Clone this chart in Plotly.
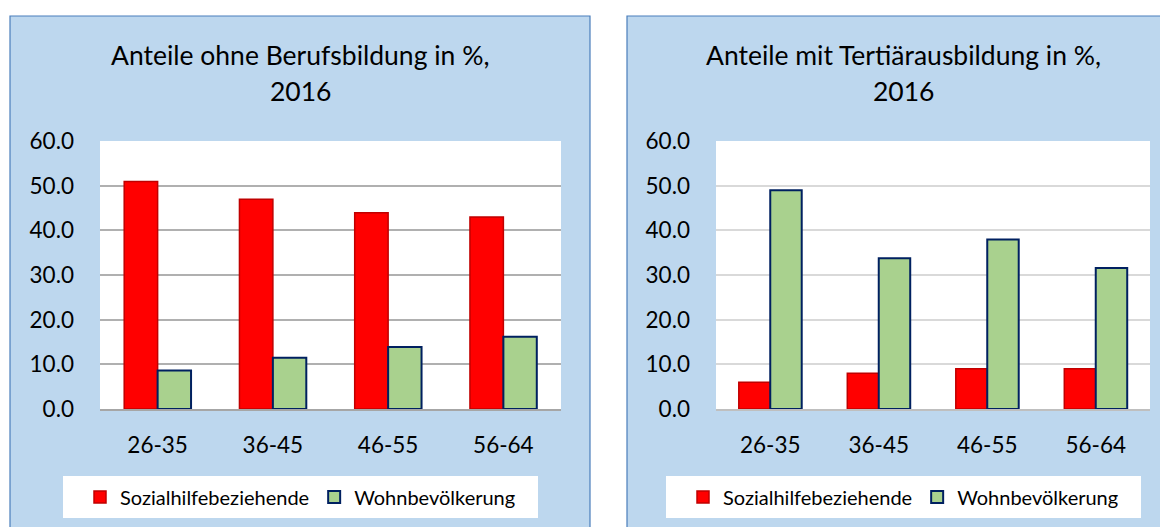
import plotly.graph_objects as go

# données
age_groups = ["26-35", "36-45", "46-55", "56-64"]

sans_formation_sozialhilfe = [51.0, 47.0, 44.0, 43.0]
sans_formation_wohnbev = [8.6, 11.5, 13.9, 16.2]

tertiaire_sozialhilfe = [6.0, 8.0, 9.0, 9.0]
tertiaire_wohnbev = [49.0, 33.8, 38.0, 31.6]

series_names = ["Sozialhilfebeziehende", "Wohnbevölkerung"]
titles = ["Anteile ohne Berufsbildung in %,", "Anteile mit Tertiärausbildung in %,"]
title_year = "2016"

# la page html ajoute une marge de 8px : on travaille en coordonnées écran
OFF = 8
W, H = 1168 - OFF, 527 - OFF
FONT = "Lato"
PANEL_BG = "#BDD7EE"
PANEL_LINE = "#4A7EBB"
RED, RED_LINE = "#FF0000", "#C00000"
GREEN, GREEN_LINE = "#A9D18E", "#002060"


def px_x(x):
    return (x - OFF) / W


def px_y(y):
    return 1 - (y - OFF) / H


fig = go.Figure()

# barres, panneau gauche puis droit
panels = [
    ("x", "y", "legend", sans_formation_sozialhilfe, sans_formation_wohnbev),
    ("x2", "y2", "legend2", tertiaire_sozialhilfe, tertiaire_wohnbev),
]
for xa, ya, leg, red_vals, green_vals in panels:
    fig.add_trace(go.Bar(
        x=age_groups, y=red_vals, name=series_names[0],
        marker=dict(color=RED, line=dict(color=RED_LINE, width=1.5)),
        xaxis=xa, yaxis=ya, legend=leg,
    ))
    fig.add_trace(go.Bar(
        x=age_groups, y=green_vals, name=series_names[1],
        marker=dict(color=GREEN, line=dict(color=GREEN_LINE, width=2)),
        xaxis=xa, yaxis=ya, legend=leg,
    ))

# fonds des panneaux, zones de tracé blanches, boites de légende
shapes = []
for x0, x1 in [(10, 590), (627, 1190)]:
    shapes.append(dict(type="rect", xref="paper", yref="paper",
                       x0=px_x(x0), x1=px_x(x1), y0=px_y(545), y1=px_y(16),
                       fillcolor=PANEL_BG, line=dict(color=PANEL_LINE, width=1.2),
                       layer="below"))
for x0, x1 in [(100, 561), (716, 1150)]:
    shapes.append(dict(type="rect", xref="paper", yref="paper",
                       x0=px_x(x0), x1=px_x(x1), y0=px_y(409), y1=px_y(141),
                       fillcolor="white", line=dict(width=0), layer="below"))
for x0, x1 in [(63, 538), (666, 1141)]:
    shapes.append(dict(type="rect", xref="paper", yref="paper",
                       x0=px_x(x0), x1=px_x(x1), y0=px_y(518), y1=px_y(476),
                       fillcolor="white", line=dict(width=0), layer="below"))

# titres
annotations = []
for cx, title in [(300, titles[0]), (903, titles[1])]:
    for cy, txt in [(55, title), (91, title_year)]:
        annotations.append(dict(x=px_x(cx), y=px_y(cy), xref="paper", yref="paper",
                                text=txt, showarrow=False, xanchor="center",
                                yanchor="middle", font=dict(size=26.5, color="black")))

y_domain = [px_y(409), px_y(141)]


def yaxis(grid, anchor):
    return dict(domain=y_domain, anchor=anchor, range=[0, 60.05], dtick=10,
                tickformat=".1f", showgrid=True, gridcolor=grid, gridwidth=1.5,
                zeroline=False, automargin=False, ticklabelstandoff=25,
                tickfont=dict(size=22.5, color="black"), fixedrange=True)


def xaxis(dom, anchor, line):
    return dict(domain=dom, anchor=anchor, showline=True, linecolor=line,
                linewidth=1.5, ticks="", automargin=False, ticklabelstandoff=15,
                tickfont=dict(size=22.5, color="black"), fixedrange=True)


def legend(cx):
    return dict(orientation="h", x=px_x(cx), y=px_y(497), xanchor="center",
                yanchor="middle", bgcolor="rgba(0,0,0,0)",
                font=dict(size=20, color="black"), itemwidth=30,
                itemclick=False, itemdoubleclick=False)


fig.update_layout(
    width=W,
    height=H,
    margin=dict(l=0, r=0, t=0, b=0, autoexpand=False),
    paper_bgcolor="white",
    plot_bgcolor="rgba(0,0,0,0)",
    font=dict(family=FONT, color="black"),
    barmode="group",
    bargap=0.42,
    bargroupgap=0,
    xaxis=xaxis([px_x(100), px_x(561)], "y", "#A6A6A6"),
    yaxis=yaxis("#B0B0B0", "x"),
    xaxis2=xaxis([px_x(716), px_x(1150)], "y2", "#BFBFBF"),
    yaxis2=yaxis("#D9D9D9", "x2"),
    legend=legend(300.5),
    legend2=legend(903.5),
    shapes=shapes,
    annotations=annotations,
)

fig.write_html("out.html")
